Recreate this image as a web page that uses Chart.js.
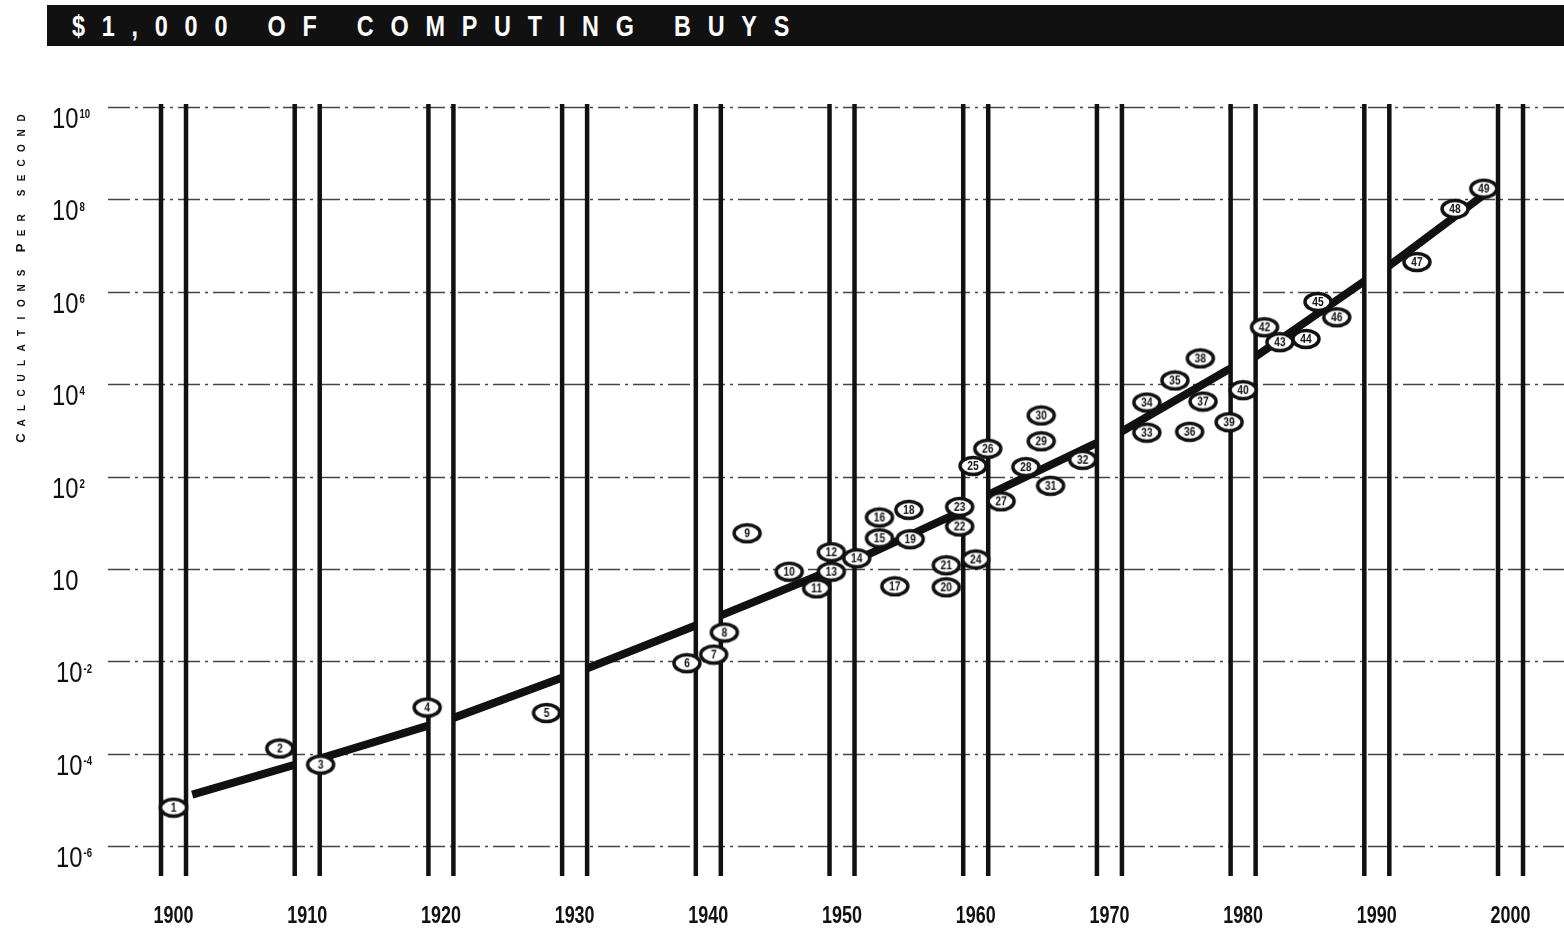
<!DOCTYPE html>
<html>
<head>
<meta charset="utf-8">
<script src="https://cdn.jsdelivr.net/npm/chart.js@4.4.0/dist/chart.umd.min.js"></script>
<style>
  html, body { margin: 0; padding: 0; background: #fff; overflow: hidden; }
  #wrap { position: relative; width: 1564px; height: 929px; overflow: hidden; }
  #chart { position: absolute; left: 0; top: 0; }
  #titlebar {
    position: absolute; left: 47px; top: 5px; width: 1517px; height: 41px;
    background: #111; overflow: hidden;
  }
  #titlebar span {
    position: absolute; left: 25px; top: 0;
    color: #fff; white-space: nowrap;
    font: bold 30px "Liberation Sans", Arial, sans-serif;
    letter-spacing: 21.5px; line-height: 42px;
    transform: scaleX(0.78); transform-origin: 0 50%;
  }
</style>
</head>
<body>
<div id="wrap">
  <canvas id="chart" width="1564" height="929"></canvas>
  <div id="titlebar"><span>$1,000 OF COMPUTING BUYS</span></div>
</div>
<script>
const FONT = '"Liberation Sans", Arial, sans-serif';

// decade pillars and x labels
const decades = [1900, 1910, 1920, 1930, 1940, 1950, 1960, 1970, 1980, 1990, 2000];

// y gridlines and the exponent printed next to each "10"
const yTicks = [1e10, 1e8, 1e6, 1e4, 1e2, 1, 1e-2, 1e-4, 1e-6];
const yTickExp = ['10', '8', '6', '4', '2', '', '-2', '-4', '-6'];

// numbered machines (calculations per second per $1,000)
const pointLabels = ['1', '2', '3', '4', '5', '6', '7', '8', '9', '10',
  '11', '12', '13', '14', '15', '16', '17', '18', '19', '20',
  '21', '22', '23', '24', '25', '26', '27', '28', '29', '30',
  '31', '32', '33', '34', '35', '36', '37', '38', '39', '40',
  '42', '43', '44', '45', '46', '47', '48', '49'];
const pointYears = [1900.0, 1907.95, 1911.0, 1918.97, 1927.9, 1938.4, 1940.4, 1941.2, 1942.9, 1946.05,
  1948.1, 1949.2, 1949.2, 1951.1, 1952.8, 1952.8, 1953.95, 1955.0, 1955.1, 1957.8,
  1957.8, 1958.8, 1958.8, 1960.0, 1959.8, 1960.9, 1961.9, 1963.75, 1964.9, 1964.9,
  1965.6, 1968.0, 1972.8, 1972.8, 1974.9, 1976.0, 1977.0, 1976.8, 1978.95, 1980.0,
  1981.6, 1982.75, 1984.7, 1985.6, 1987.0, 1993.0, 1995.85, 1998.0];
const pointValues = [6.8e-6, 1.3e-4, 5.8e-5, 1.0e-3, 7.6e-4, 9.1e-3, 1.4e-2, 4.2e-2, 5.9, 0.87,
  0.38, 2.3, 0.87, 1.7, 4.6, 13, 0.42, 19, 4.4, 0.40,
  1.2, 8.3, 22, 1.6, 170, 400, 29, 160, 580, 2100,
  63, 230, 890, 4000, 12000, 930, 4200, 36000, 1500, 7400,
  1.7e5, 8.1e4, 9.5e4, 6.0e5, 2.8e5, 4.4e6, 6.2e7, 1.7e8];

// trend curve, read at the ends of each visible segment
const trendYears = [1901.4, 1908.85, 1910.65, 1919.0, 1920.9, 1929.05, 1931.0, 1939.2, 1941.0, 1949.1,
  1951.85, 1958.8, 1960.9, 1968.7, 1970.7, 1978.8, 1980.8, 1988.95, 1991.0, 1998.5];
const trendValues = [1.3e-5, 5.5e-5, 7.4e-5, 4.0e-4, 5.9e-4, 4.4e-3, 7.2e-3, 0.062, 0.10, 0.91,
  2.0, 17, 40, 480, 870, 2.0e4, 3.7e4, 1.6e6, 3.8e6, 1.6e8];

// condensed text: no narrow font here, so squeeze a normal one
function narrowText(ctx, text, x, y, sx) {
  ctx.save();
  ctx.translate(x, y);
  ctx.scale(sx, 1);
  ctx.fillText(text, 0, 0);
  ctx.restore();
}

// little ellipse badge for each numbered point
function makeBubble(label) {
  const c = document.createElement('canvas');
  c.width = 32; c.height = 22;
  const g = c.getContext('2d');
  g.beginPath();
  g.ellipse(16, 11, 13, 8.5, 0, 0, Math.PI * 2);
  g.fillStyle = '#fff';
  g.fill();
  g.lineWidth = 3.5;
  g.strokeStyle = '#111';
  g.stroke();
  g.fillStyle = '#111';
  g.font = 'bold 12px ' + FONT;
  g.textAlign = 'center';
  g.textBaseline = 'middle';
  narrowText(g, label, 16, 12, 0.85);
  return c;
}
const bubbles = pointLabels.map(makeBubble);

function drawGrid(chart) {
  const { ctx, chartArea: a, scales: { y } } = chart;
  ctx.save();
  ctx.strokeStyle = '#444';
  ctx.lineWidth = 1.5;
  ctx.setLineDash([22, 5, 3, 5]);
  yTicks.forEach(v => {
    const py = Math.round(y.getPixelForValue(v)) + 0.5;
    ctx.beginPath();
    ctx.moveTo(a.left, py);
    ctx.lineTo(a.right, py);
    ctx.stroke();
  });
  ctx.restore();
}

const pillarPlugin = {
  id: 'pillars',
  beforeDatasetsDraw(chart) {
    drawGrid(chart);
  },
  beforeDatasetDraw(chart, args) {
    if (args.index !== 0) return; // pillars go over the trend line, under the badges
    const { ctx, chartArea: a, scales: { x } } = chart;
    const top = a.top + 4, bot = a.bottom - 2;
    ctx.save();
    ctx.beginPath();
    decades.forEach(d => {
      const px = x.getPixelForValue(d);
      ctx.rect(px - 13, top, 26, bot - top);
    });
    ctx.fillStyle = '#fff';
    ctx.fill();
    ctx.clip();
    drawGrid(chart);
    ctx.restore();

    ctx.save();
    ctx.strokeStyle = '#111';
    ctx.lineWidth = 4.5;
    decades.forEach(d => {
      const px = x.getPixelForValue(d);
      [-12.5, 12.5].forEach(o => {
        ctx.beginPath();
        ctx.moveTo(px + o, top);
        ctx.lineTo(px + o, bot);
        ctx.stroke();
      });
    });
    ctx.restore();
  },
  afterDraw(chart) {
    const { ctx, scales: { x, y } } = chart;
    ctx.save();
    ctx.fillStyle = '#111';

    // year labels
    ctx.font = 'bold 23px ' + FONT;
    ctx.textAlign = 'center';
    ctx.textBaseline = 'middle';
    decades.forEach(d => narrowText(ctx, String(d), x.getPixelForValue(d), 917, 0.78));

    // power-of-ten labels
    ctx.textAlign = 'left';
    yTicks.forEach((v, i) => {
      const py = y.getPixelForValue(v) + 13;
      const lx = yTickExp[i].startsWith('-') ? 56 : 52;
      ctx.font = '29px ' + FONT;
      ctx.textBaseline = 'middle';
      narrowText(ctx, '10', lx, py, 0.82);
      const w = ctx.measureText('10').width * 0.82;
      if (yTickExp[i]) {
        ctx.font = 'bold 12px ' + FONT;
        ctx.textBaseline = 'top';
        narrowText(ctx, yTickExp[i], lx + w + 1, py - 11, 0.8);
      }
    });

    // rotated small-caps axis title
    const title = 'CALCULATIONS PER SECOND';
    const big = [0, 13];
    let py = 438;
    for (let i = 0; i < title.length; i++) {
      const ch = title[i];
      if (ch === ' ') { py -= 10; continue; }
      ctx.save();
      ctx.translate(25, py);
      ctx.rotate(-Math.PI / 2);
      ctx.font = (big.includes(i) ? 'bold 13px ' : 'bold 10px ') + FONT;
      ctx.textAlign = 'center';
      ctx.textBaseline = 'alphabetic';
      ctx.fillText(ch, 0, 0);
      ctx.restore();
      py -= 15;
    }
    ctx.restore();
  }
};

new Chart(document.getElementById('chart'), {
  type: 'scatter',
  data: {
    datasets: [
      {
        data: pointYears.map((yr, i) => ({ x: yr, y: pointValues[i] })),
        order: 1,
        pointStyle: ctx => bubbles[ctx.dataIndex],
        pointRadius: 13,
        pointHoverRadius: 13
      },
      {
        data: trendYears.map((yr, i) => ({ x: yr, y: trendValues[i] })),
        order: 2,
        showLine: true,
        borderColor: '#111',
        borderWidth: 8,
        borderCapStyle: 'butt',
        tension: 0,
        pointRadius: 0,
        pointHoverRadius: 0
      }
    ]
  },
  options: {
    responsive: false,
    animation: false,
    devicePixelRatio: 1,
    events: [],
    layout: { autoPadding: false, padding: { left: 108, right: 0, top: 100, bottom: 51 } },
    plugins: { legend: { display: false }, tooltip: { enabled: false } },
    scales: {
      x: { type: 'linear', display: false, bounds: 'data', min: 1895.1, max: 2004 },
      y: { type: 'logarithmic', display: false, bounds: 'data', min: Math.pow(10, -6.69), max: Math.pow(10, 10.15) }
    }
  },
  plugins: [pillarPlugin]
});
</script>
</body>
</html>
